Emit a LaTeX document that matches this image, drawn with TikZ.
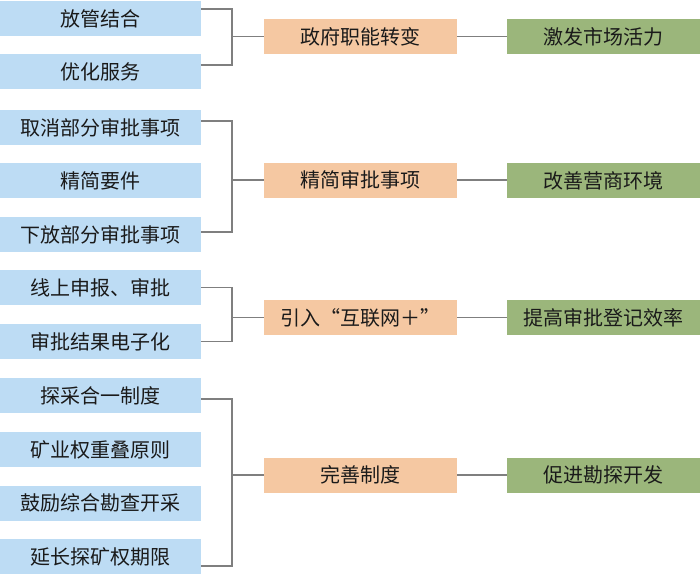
\documentclass[tikz,border=0pt]{standalone}
\usepackage{fontspec}
\newfontfamily\cjk{Noto Sans CJK SC}
\newfontfamily\cjkfw[RawFeature=+fwid]{Noto Sans CJK SC}
\definecolor{lblue}{HTML}{BDDCF4}
\definecolor{lorange}{HTML}{F5C8A2}
\definecolor{lgreen}{HTML}{9BB67B}
\definecolor{lgray}{HTML}{7F7F7F}
\definecolor{txt}{HTML}{1A1A1A}
\begin{document}
\begin{tikzpicture}[x=1pt,y=-1pt,
  base/.style={rectangle,inner sep=0pt,minimum height=35pt,text=txt,font=\cjk\fontsize{20}{22}\selectfont},
  lbox/.style={base,fill=lblue,minimum width=201pt},
  obox/.style={base,fill=lorange,minimum width=193pt},
  gbox/.style={base,fill=lgreen,minimum width=193pt},
  conn/.style={draw=lgray,line width=1.2pt}]
\useasboundingbox (0,0) rectangle (700,575);
% left boxes
\node[lbox] (b1) at (100.5,19) {放管结合};
\node[lbox] (b2) at (100.5,72) {优化服务};
\node[lbox] (b3) at (100.5,127.5) {取消部分审批事项};
\node[lbox] (b4) at (100.5,180.5) {精简要件};
\node[lbox] (b5) at (100.5,234.5) {下放部分审批事项};
\node[lbox] (b6) at (100.5,287.5) {线上申报、审批};
\node[lbox] (b7) at (100.5,341.5) {审批结果电子化};
\node[lbox] (b8) at (100.5,395.5) {探采合一制度};
\node[lbox] (b9) at (100.5,449.5) {矿业权重叠原则};
\node[lbox] (b10) at (100.5,503) {鼓励综合勘查开采};
\node[lbox] (b11) at (100.5,556.5) {延长探矿权期限};
% middle boxes
\node[obox] (o1) at (360.5,36.5) {政府职能转变};
\node[obox] (o2) at (360.5,180) {精简审批事项};
\node[obox] (o3) at (360.5,317.5) {\cjkfw 引入“互联网+”};
\node[obox] (o4) at (360.5,475) {完善制度};
% right boxes
\node[gbox] (g1) at (603.5,36.5) {激发市场活力};
\node[gbox] (g2) at (603.5,180.5) {改善营商环境};
\node[gbox] (g3) at (603.5,317.5) {提高审批登记效率};
\node[gbox] (g4) at (603.5,475) {促进勘探开发};
% junctions
\coordinate (j1) at (232,36.5);
\coordinate (j2) at (232,180);
\coordinate (j3) at (232,317.5);
\coordinate (j4) at (232,475);
% brackets
\draw[conn] ([yshift=10pt]b1.east) -| (j1);
\draw[conn] ([yshift=7pt]b2.east) -| (j1);
\draw[conn] (j1) -- (o1.west);
\draw[conn] ([yshift=6.5pt]b3.east) -| (j2);
\draw[conn] ([yshift=2.5pt]b5.east) -| (j2);
\draw[conn] (j2) -- (o2.west);
\draw[conn] (b6.east) -| (j3);
\draw[conn] (b7.east) -| (j3);
\draw[conn] (j3) -- (o3.west);
\draw[conn] ([yshift=-3.5pt]b8.east) -| (j4);
\draw[conn] ([yshift=-9.5pt]b11.east) -| (j4);
\draw[conn] (j4) -- (o4.west);
% to right
\draw[conn] (o1.east) -- (g1.west);
\draw[conn] (o2.east) -- (g2.west |- o2.east);
\draw[conn] (o3.east) -- (g3.west);
\draw[conn] (o4.east) -- (g4.west);
\end{tikzpicture}
\end{document}
